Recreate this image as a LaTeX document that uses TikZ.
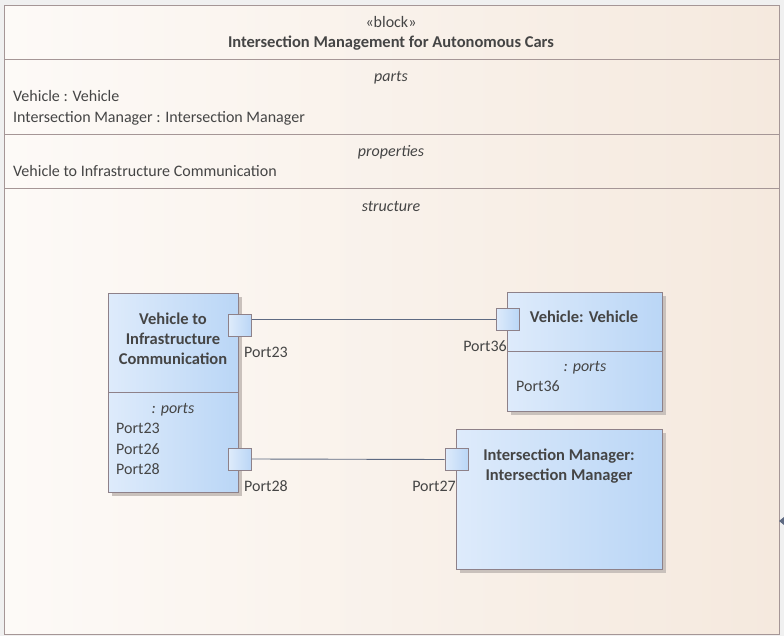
\documentclass[tikz,border=0pt]{standalone}
\usepackage{fontspec}
\setmainfont{Carlito}
\definecolor{txt}{HTML}{454545}
\definecolor{frame}{HTML}{A59696}
\definecolor{bgL}{HTML}{FDFAF7}
\definecolor{bgR}{HTML}{F5E9DE}
\definecolor{blkL}{HTML}{DEEBFB}
\definecolor{blkR}{HTML}{BAD6F6}
\definecolor{blkB}{HTML}{8E8189}
\definecolor{shad}{HTML}{C9C1BC}
\definecolor{wire}{HTML}{5E6A82}
\begin{document}
\begin{tikzpicture}[x=1pt,y=-1pt,
  every node/.style={text=txt,font=\fontsize{16}{19}\selectfont,inner sep=0pt},
  lbl/.style={anchor=mid west},
  ctr/.style={anchor=mid},
  ttl/.style={anchor=center,font=\fontsize{16.5}{20}\selectfont\bfseries,align=center},
  ital/.style={anchor=mid,font=\fontsize{16}{19}\selectfont\itshape},
  blockbox/.style={draw=blkB,line width=0.9pt,left color=blkL,right color=blkR},
  portbox/.style={draw=blkB,line width=0.9pt,left color=blkL,right color=blkR,minimum width=23pt,minimum height=22pt},
  wireln/.style={draw=wire,line width=0.9pt}
]
\useasboundingbox (0,0) rectangle (784,636);
% screen background
\fill[gray!12] (0,0) rectangle (784,636);
% outer block
\path[left color=bgL,right color=bgR] (4,6) rectangle (779,634);
\draw[frame,line width=1pt] (4,6) rectangle (779,634);
\draw[frame,line width=1pt] (4,60) -- (779,60);
\draw[frame,line width=1pt] (4,135) -- (779,135);
\draw[frame,line width=1pt] (4,189) -- (779,189);
\fill[wire] (779,521) -- (784,517) -- (784,525) -- cycle;

\node[ctr] (st) at (391,25) {«block»};
\node[ttl] (tt) at (391,43) {Intersection Management for Autonomous Cars};
\node[ital] (pa) at (391,79) {parts};
\node[lbl] (p1) at (13,99) {Vehicle : Vehicle};
\node[lbl] (p2) at (13,120) {Intersection Manager : Intersection Manager};
\node[ital] (pr) at (391,154) {properties};
\node[lbl] (pr1) at (13,174) {Vehicle to Infrastructure Communication};
\node[ital] (stc) at (391,209) {structure};

% shadows
\fill[shad] (112,297) rectangle (242,496);
\fill[shad] (511,296) rectangle (666,415);
\fill[shad] (460,433) rectangle (666,573);

% V2I block
\draw[blockbox] (108,293) rectangle (238,492);
\draw[blkB,line width=0.9pt] (108,392) -- (238,392);
\node[ttl] (v2i) at (173,339) {Vehicle to\\Infrastructure\\Communication};
\node[ital] (v2ip) at (173,411) {: ports};
\node[lbl] (a1) at (116,431) {Port23};
\node[lbl] (a2) at (116,452) {Port26};
\node[lbl] (a3) at (116,472) {Port28};

% Vehicle block
\draw[blockbox] (507,292) rectangle (662,411);
\draw[blkB,line width=0.9pt] (507,351) -- (662,351);
\node[ttl] (veh) at (584,317) {Vehicle: Vehicle};
\node[ital] (vehp) at (585,369) {: ports};
\node[lbl] (b1) at (516,389) {Port36};

% Intersection manager block
\draw[blockbox] (456,429) rectangle (662,569);
\node[ttl] (im) at (559,466) {Intersection Manager:\\Intersection Manager};

% ports
\node[portbox] (p23) at (240,325) {};
\node[portbox] (p28) at (240,459) {};
\node[portbox] (p36) at (507.5,319) {};
\node[portbox] (p27) at (456.5,459.5) {};
\node[lbl] (l23) at (244,355) {Port23};
\node[lbl] (l28) at (244,489) {Port28};
\node[anchor=mid east] (l36) at (507,349) {Port36};
\node[anchor=mid east] (l27) at (456,489) {Port27};

% connectors
\draw[wireln] (p36.west -| p23.east) -- (p36.west);
\draw[wireln] (p28.east) -- (p27.west);
\end{tikzpicture}
\end{document}
